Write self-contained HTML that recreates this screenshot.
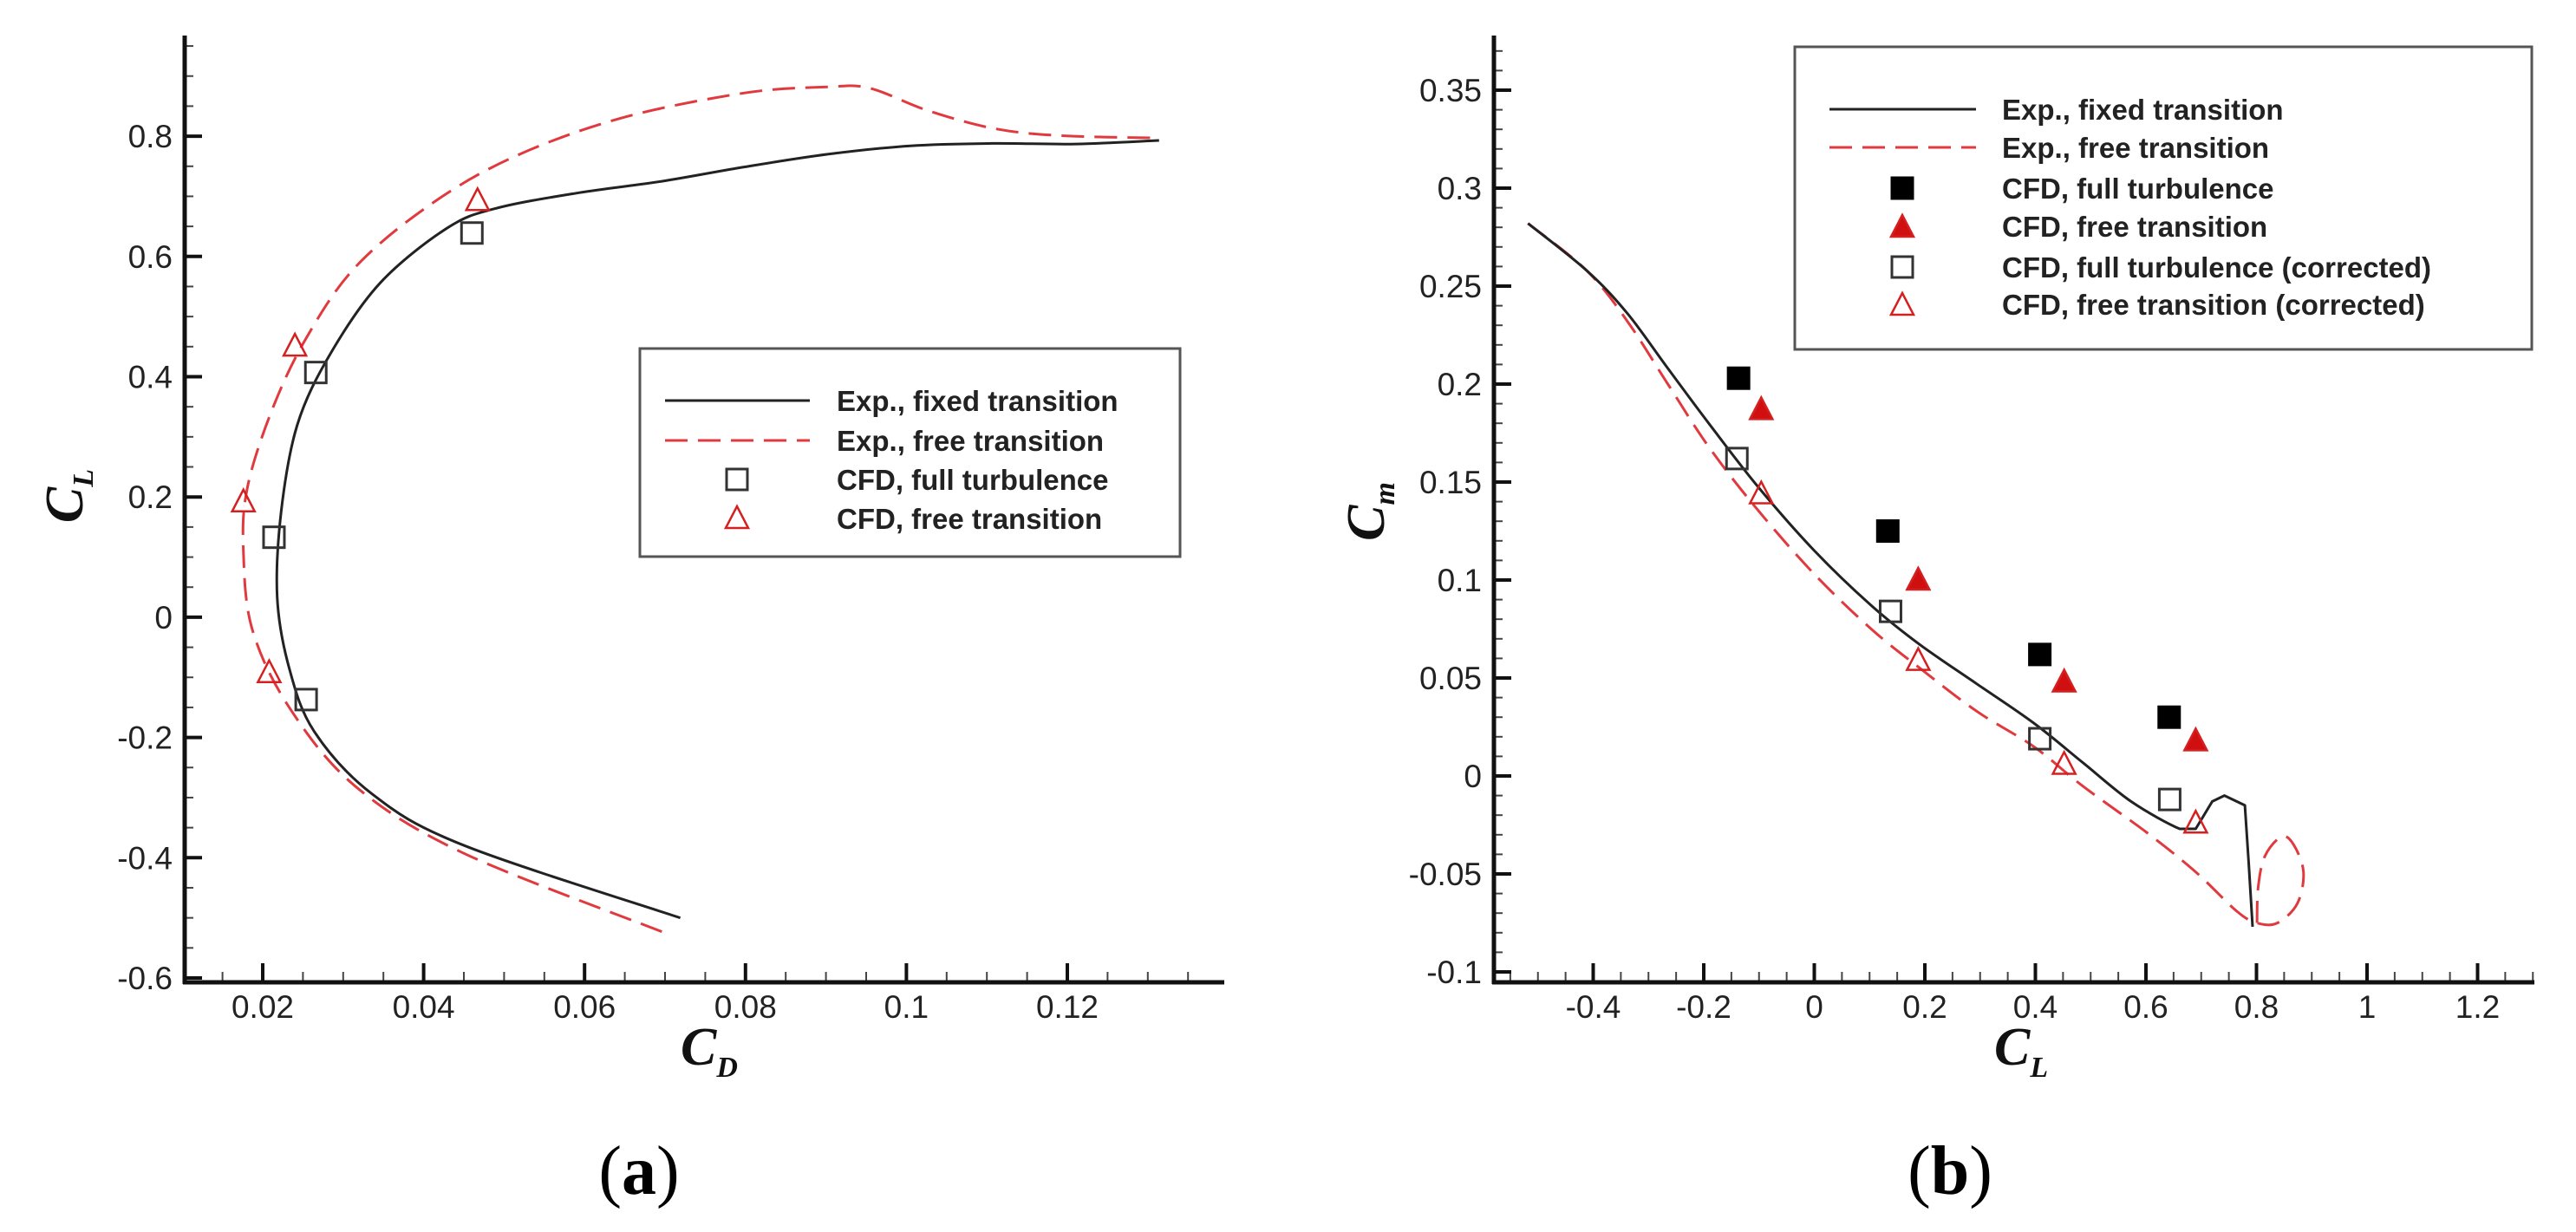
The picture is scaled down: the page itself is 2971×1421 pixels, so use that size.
<!DOCTYPE html>
<html><head><meta charset="utf-8"><style>
html,body{margin:0;padding:0;background:#fff;}
svg{display:block;}
</style></head><body>
<svg id="fig" width="2971" height="1421" viewBox="0 0 2971 1421" xmlns="http://www.w3.org/2000/svg" font-family="Liberation Sans, sans-serif">
<rect width="2971" height="1421" fill="#fff"/>
<g id="pa"></g>
<g id="pb"></g>
</svg>
<script>
// ---- Panel (a) data: CL vs CD ----
const aFixedCD = [0.0719,0.0449,0.0336,0.0264,0.0233,0.0218,0.0223,0.0243,0.0284,0.0346,0.0429,0.049,0.0593,0.0696,0.0799,0.0902,0.1005,0.1108,0.1211,0.1314];
const aFixedCL = [-0.50,-0.379,-0.294,-0.19,-0.085,0.033,0.176,0.32,0.438,0.556,0.647,0.68,0.706,0.725,0.749,0.77,0.784,0.788,0.787,0.793];
const aFreeCD = [0.0696,0.0449,0.0315,0.0233,0.0187,0.0176,0.0181,0.0212,0.0254,0.0315,0.0408,0.0511,0.0645,0.0799,0.0902,0.0954,0.1026,0.1108,0.1191,0.1314];
const aFreeCL = [-0.523,-0.392,-0.281,-0.150,-0.020,0.111,0.216,0.346,0.464,0.582,0.686,0.765,0.830,0.872,0.882,0.880,0.843,0.813,0.801,0.797];
const aSqCD = [0.046,0.0266,0.0214,0.0254];
const aSqCL = [0.639,0.407,0.133,-0.137];
const aTriCD = [0.0467,0.0240,0.0176,0.0208];
const aTriCL = [0.693,0.451,0.192,-0.092];
const aXTicks = [0.02,0.04,0.06,0.08,0.1,0.12];
const aXTickLabels = ["0.02","0.04","0.06","0.08","0.1","0.12"];
const aYTicks = [-0.6,-0.4,-0.2,0,0.2,0.4,0.6,0.8];
const aYTickLabels = ["-0.6","-0.4","-0.2","0","0.2","0.4","0.6","0.8"];

// ---- Panel (b) data: Cm vs CL ----
const bFixedCL = [-0.518,-0.412,-0.338,-0.265,-0.191,-0.103,0.0,0.103,0.191,0.294,0.397,0.485,0.573,0.661,0.690,0.720,0.742,0.779,0.786,0.793];
const bFixedCM = [0.282,0.258,0.236,0.208,0.180,0.148,0.115,0.087,0.067,0.047,0.027,0.007,-0.013,-0.027,-0.027,-0.013,-0.010,-0.015,-0.045,-0.077];
const bFreeCL = [-0.518,-0.412,-0.338,-0.265,-0.191,-0.103,0.0,0.103,0.191,0.294,0.397,0.485,0.602,0.690,0.764,0.801,0.838,0.874,0.885,0.867,0.845,0.815,0.803,0.801];
const bFreeCM = [0.282,0.258,0.232,0.200,0.168,0.136,0.103,0.075,0.055,0.033,0.015,-0.005,-0.029,-0.049,-0.069,-0.075,-0.075,-0.065,-0.049,-0.035,-0.031,-0.041,-0.057,-0.075];
const bFtCL = [-0.137,0.133,0.408,0.642];
const bFtCM = [0.203,0.125,0.062,0.030];
const bTrCL = [-0.096,0.188,0.452,0.690];
const bTrCM = [0.187,0.100,0.048,0.018];
const bFtcCL = [-0.140,0.138,0.408,0.643];
const bFtcCM = [0.162,0.084,0.019,-0.012];
const bTrcCL = [-0.096,0.188,0.452,0.690];
const bTrcCM = [0.144,0.059,0.006,-0.024];
const bXTicks = [-0.4,-0.2,0,0.2,0.4,0.6,0.8,1,1.2];
const bXTickLabels = ["-0.4","-0.2","0","0.2","0.4","0.6","0.8","1","1.2"];
const bYTicks = [-0.1,-0.05,0,0.05,0.1,0.15,0.2,0.25,0.3,0.35];
const bYTickLabels = ["-0.1","-0.05","0","0.05","0.1","0.15","0.2","0.25","0.3","0.35"];

const NS = "http://www.w3.org/2000/svg";
const SERIF = "font-family:'Liberation Serif',serif;";
function mk(parent, tag, attrs, txt){
  const e = document.createElementNS(NS, tag);
  for (const k in attrs) e.setAttribute(k, attrs[k]);
  if (txt !== undefined) e.textContent = txt;
  parent.appendChild(e);
  return e;
}
const ax = v => 303 + (v - 0.02) / 0.02 * 185.6;
const ay = v => 1128 - (v + 0.6) / 0.2 * 138.7;
const bx = v => 2092.5 + v / 0.2 * 127.5;
const by = v => 1121 - (v + 0.1) / 0.05 * 113;

function smoothPath(xs, ys, fx, fy, sharpFrom){
  const p = xs.map((x,i)=>[fx(x), fy(ys[i])]);
  let d = "M" + p[0][0].toFixed(1) + "," + p[0][1].toFixed(1);
  for (let i = 0; i < p.length - 1; i++){
    if (sharpFrom !== undefined && i >= sharpFrom){ d += "L"+p[i+1][0].toFixed(1)+","+p[i+1][1].toFixed(1); continue; }
    const p0 = p[Math.max(0,i-1)], p1 = p[i], p2 = p[i+1], p3 = p[Math.min(p.length-1,i+2)];
    const c1 = [p1[0]+(p2[0]-p0[0])/6, p1[1]+(p2[1]-p0[1])/6];
    const c2 = [p2[0]-(p3[0]-p1[0])/6, p2[1]-(p3[1]-p1[1])/6];
    d += "C"+c1[0].toFixed(1)+","+c1[1].toFixed(1)+" "+c2[0].toFixed(1)+","+c2[1].toFixed(1)+" "+p2[0].toFixed(1)+","+p2[1].toFixed(1);
  }
  return d;
}
function square(g, cx, cy, fill, name){
  const r = mk(g, "rect", {x:cx-12, y:cy-12, width:24, height:24, fill:fill, stroke: fill==="none" ? "#333" : "#000", "stroke-width":3});
  
  
}
function tri(g, cx, cy, fill, name){
  const t = mk(g, "polygon", {points:(cx)+","+(cy-14)+" "+(cx-13)+","+(cy+11)+" "+(cx+13)+","+(cy+11), fill:fill, stroke:"#d42020", "stroke-width":2.5});
  
  
}
function axes(g, x0, x1, y0, y1, fx, fy, xt, xl, yt, yl, xminor, yminor){
  xminor.forEach(v=>{ const X=fx(v); if(X>x0+4&&X<x1){ const l=mk(g,"line",{x1:X,y1:y1,x2:X,y2:y1-12,stroke:"#444","stroke-width":2});  }});
  yminor.forEach(v=>{ const Y=fy(v); if(Y>y0&&Y<y1-4){ const l=mk(g,"line",{x1:x0,y1:Y,x2:x0+10,y2:Y,stroke:"#444","stroke-width":2});  }});
  xt.forEach((v,i)=>{ const X=fx(v);
    const l=mk(g,"line",{x1:X,y1:y1,x2:X,y2:y1-22,stroke:"#111","stroke-width":4});
     
    const t=mk(g,"text",{x:X,y:y1+41,"text-anchor":"middle","font-size":37,fill:"#222"},xl[i]);
     
  });
  yt.forEach((v,i)=>{ const Y=fy(v);
    const l=mk(g,"line",{x1:x0,y1:Y,x2:x0+20,y2:Y,stroke:"#111","stroke-width":4});
     
    const t=mk(g,"text",{x:x0-14,y:Y+13,"text-anchor":"end","font-size":37,fill:"#222"},yl[i]);
     
  });
  const a1=mk(g,"line",{x1:x0,y1:y0,x2:x0,y2:y1+2,stroke:"#111","stroke-width":5});
   
  const a2=mk(g,"line",{x1:x0-2,y1:y1,x2:x1,y2:y1,stroke:"#111","stroke-width":5});
   
}
function range(a,b,s){ const r=[]; for(let v=a; v<=b+1e-9; v+=s) r.push(+v.toFixed(4)); return r; }

// ---------- Panel A ----------
const pa = document.getElementById("pa");
axes(pa, 213, 1412, 41, 1133, ax, ay, aXTicks, aXTickLabels, aYTicks, aYTickLabels, range(0.015,0.135,0.005), range(-0.6,0.95,0.05));
let e;
e = mk(pa,"path",{d:smoothPath(aFreeCD,aFreeCL,ax,ay),fill:"none",stroke:"#e0393e","stroke-width":3,"stroke-dasharray":"26,12"});
 
e = mk(pa,"path",{d:smoothPath(aFixedCD,aFixedCL,ax,ay),fill:"none",stroke:"#222","stroke-width":3});
 
aSqCD.forEach((v,i)=>square(pa, ax(v), ay(aSqCL[i]), "none", "cfd-full-turbulence-point"));
aTriCD.forEach((v,i)=>tri(pa, ax(v), ay(aTriCL[i]), "none", "cfd-free-transition-point"));
const la = mk(pa,"g",{});  
mk(la,"rect",{x:738,y:402,width:623,height:240,fill:"#fff",stroke:"#555","stroke-width":3});
mk(la,"line",{x1:767,y1:462,x2:934,y2:462,stroke:"#222","stroke-width":3});
mk(la,"line",{x1:767,y1:508,x2:934,y2:508,stroke:"#e0393e","stroke-width":3,"stroke-dasharray":"26,12"});
square(la, 850, 553, "none", "legend-square-marker");
tri(la, 850, 598, "none", "legend-triangle-marker");
const laTxt = ["Exp., fixed transition","Exp., free transition","CFD, full turbulence","CFD, free transition"];
[462,508,553,598].forEach((y,i)=>{ const t=mk(la,"text",{x:965,y:y+12,"font-size":33,"font-weight":"bold",fill:"#222"},laTxt[i]);  });
e = mk(pa,"text",{x:0,y:0,transform:"translate(95,572) rotate(-90)","text-anchor":"middle",style:SERIF,"font-size":62,"font-weight":"bold","font-style":"italic",fill:"#111"});
e.innerHTML = 'C<tspan font-size="34" dy="12">L</tspan>';
 
e = mk(pa,"text",{x:785,y:1228,style:SERIF,"font-size":62,"font-weight":"bold","font-style":"italic",fill:"#111"});
e.innerHTML = 'C<tspan font-size="34" dy="14">D</tspan>';
 
e = mk(pa,"text",{x:737,y:1377,"text-anchor":"middle",style:SERIF,"font-size":80,fill:"#000"});
e.innerHTML = '(<tspan font-weight="bold">a</tspan>)';
 

// ---------- Panel B ----------
const pb = document.getElementById("pb");
axes(pb, 1723, 2923, 41, 1133, bx, by, bXTicks, bXTickLabels, bYTicks, bYTickLabels, range(-0.55,1.3,0.05), range(-0.1,0.37,0.01));
e = mk(pb,"path",{d:smoothPath(bFreeCL,bFreeCM,bx,by),fill:"none",stroke:"#e0393e","stroke-width":3,"stroke-dasharray":"26,12"});
 
e = mk(pb,"path",{d:smoothPath(bFixedCL,bFixedCM,bx,by,13),fill:"none",stroke:"#222","stroke-width":3,"stroke-linejoin":"round"});
 
bFtCL.forEach((v,i)=>square(pb, bx(v), by(bFtCM[i]), "#000", "cfd-full-turbulence-point"));
bTrCL.forEach((v,i)=>tri(pb, bx(v), by(bTrCM[i]), "#d01010", "cfd-free-transition-point"));
bFtcCL.forEach((v,i)=>square(pb, bx(v), by(bFtcCM[i]), "none", "cfd-full-turbulence-corrected-point"));
bTrcCL.forEach((v,i)=>tri(pb, bx(v), by(bTrcCM[i]), "none", "cfd-free-transition-corrected-point"));
const lb = mk(pb,"g",{});  
mk(lb,"rect",{x:2070,y:54,width:850,height:349,fill:"#fff",stroke:"#555","stroke-width":3});
mk(lb,"line",{x1:2110,y1:126,x2:2279,y2:126,stroke:"#222","stroke-width":3});
mk(lb,"line",{x1:2110,y1:170,x2:2279,y2:170,stroke:"#e0393e","stroke-width":3,"stroke-dasharray":"26,12"});
square(lb, 2194, 217, "#000", "legend-filled-square");
tri(lb, 2194, 262, "#d01010", "legend-filled-triangle");
square(lb, 2194, 308, "none", "legend-open-square");
tri(lb, 2194, 352, "none", "legend-open-triangle");
const lbTxt = ["Exp., fixed transition","Exp., free transition","CFD, full turbulence","CFD, free transition","CFD, full turbulence (corrected)","CFD, free transition (corrected)"];
[126,170,217,261,308,351].forEach((y,i)=>{ const t=mk(lb,"text",{x:2309,y:y+12,"font-size":33,"font-weight":"bold",fill:"#222"},lbTxt[i]);  });
e = mk(pb,"text",{x:0,y:0,transform:"translate(1596,590) rotate(-90)","text-anchor":"middle",style:SERIF,"font-size":62,"font-weight":"bold","font-style":"italic",fill:"#111"});
e.innerHTML = 'C<tspan font-size="34" dy="12">m</tspan>';
 
e = mk(pb,"text",{x:2300,y:1228,style:SERIF,"font-size":62,"font-weight":"bold","font-style":"italic",fill:"#111"});
e.innerHTML = 'C<tspan font-size="34" dy="14">L</tspan>';
 
e = mk(pb,"text",{x:2249,y:1377,"text-anchor":"middle",style:SERIF,"font-size":80,fill:"#000"});
e.innerHTML = '(<tspan font-weight="bold">b</tspan>)';
 
</script>
</body></html>
